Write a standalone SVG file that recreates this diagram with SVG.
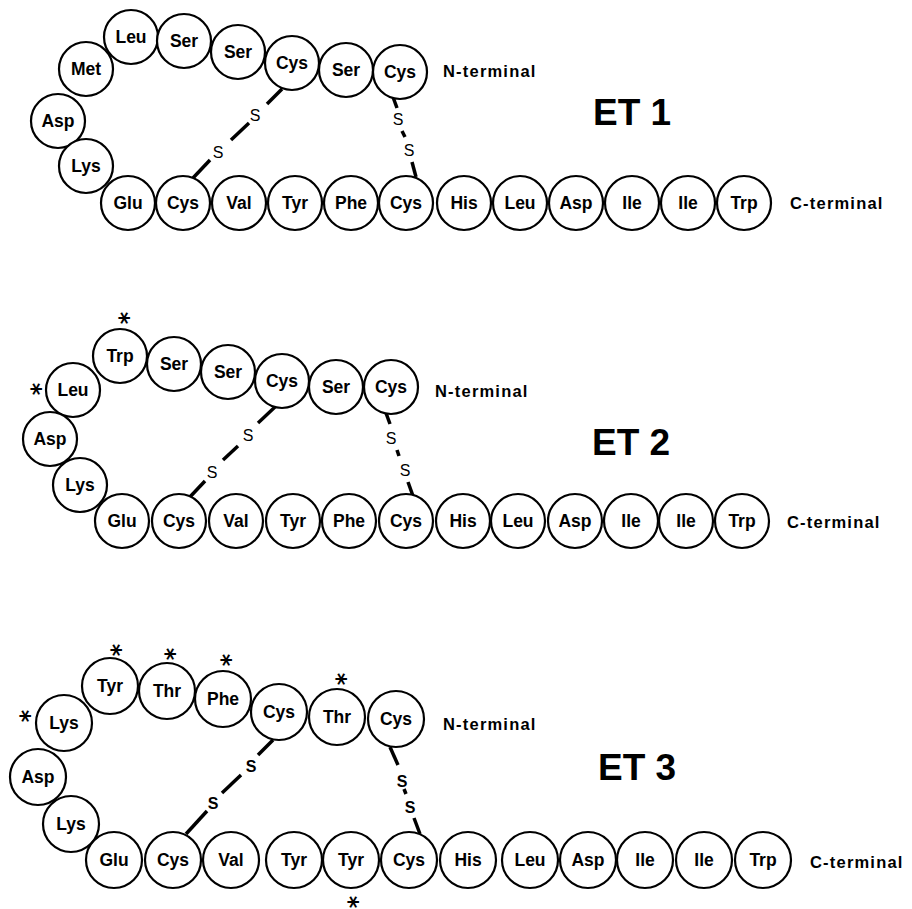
<svg xmlns="http://www.w3.org/2000/svg" width="912" height="909" viewBox="0 0 912 909">
<style>
.r circle{fill:#fff;stroke:#000;stroke-width:2.2}
.r text{font-family:"Liberation Sans",Arial,sans-serif;font-weight:bold;font-size:17.5px;text-anchor:middle;fill:#000}
.bond{stroke:#000;stroke-width:3.5;stroke-linecap:butt}
.s{font-family:"Liberation Sans",Arial,sans-serif;font-size:16px;text-anchor:middle;fill:#000}
.sb{font-family:"Liberation Sans",Arial,sans-serif;font-weight:bold;font-size:16px;text-anchor:middle;fill:#000}
.term{font-family:"Liberation Sans",Arial,sans-serif;font-weight:bold;font-size:16.5px;letter-spacing:1.2px;fill:#000}
.title{font-family:"Liberation Sans",Arial,sans-serif;font-weight:bold;font-size:37px;fill:#000}
.ast{font-family:"DejaVu Sans",sans-serif;font-weight:bold;font-size:24px;text-anchor:middle;fill:#000}
</style>
<rect width="912" height="909" fill="#fff"/>

<!-- connectors (disulfide bridges) -->
<g id="connectors">
  <line class="bond" x1="282" y1="89" x2="267" y2="104"/>
  <line class="bond" x1="249" y1="123" x2="231" y2="140"/>
  <line class="bond" x1="210" y1="160" x2="193" y2="178"/>
  <text class="s" x="255" y="121">S</text>
  <text class="s" x="218" y="158">S</text>
  <line class="bond" x1="393" y1="97" x2="397" y2="108"/>
  <line class="bond" x1="402" y1="131" x2="405" y2="137"/>
  <line class="bond" x1="412" y1="162" x2="416" y2="177"/>
  <text class="s" x="398" y="125">S</text>
  <text class="s" x="409" y="156">S</text>

  <line class="bond" x1="275" y1="407" x2="258" y2="423"/>
  <line class="bond" x1="238" y1="446" x2="223" y2="460"/>
  <line class="bond" x1="205" y1="481" x2="188" y2="499"/>
  <text class="s" x="248" y="441">S</text>
  <text class="s" x="212" y="478">S</text>
  <line class="bond" x1="386" y1="413" x2="390" y2="424"/>
  <line class="bond" x1="397" y1="450" x2="399" y2="456"/>
  <line class="bond" x1="408" y1="482" x2="413" y2="496"/>
  <text class="s" x="391" y="444">S</text>
  <text class="s" x="405" y="476">S</text>

  <line class="bond" x1="273" y1="740" x2="258" y2="755"/>
  <line class="bond" x1="241" y1="775" x2="222" y2="793"/>
  <line class="bond" x1="207" y1="811" x2="186" y2="834"/>
  <text class="sb" x="251" y="772">S</text>
  <text class="sb" x="213" y="809">S</text>
  <line class="bond" x1="390" y1="747" x2="398" y2="765"/>
  <line class="bond" x1="404" y1="789" x2="406" y2="794"/>
  <line class="bond" x1="414" y1="818" x2="420" y2="834"/>
  <text class="sb" x="402" y="787">S</text>
  <text class="sb" x="410" y="813">S</text>
</g>

<!-- ET 1 -->
<g id="et1">
  <g id="et1-leu6" class="r" transform="translate(131,37)"><circle r="27"/><text y="6">Leu</text></g>
  <g id="et1-ser5" class="r" transform="translate(184,41)"><circle r="27"/><text y="6">Ser</text></g>
  <g id="et1-ser4" class="r" transform="translate(238,52)"><circle r="27"/><text y="6">Ser</text></g>
  <g id="et1-cys3" class="r" transform="translate(292,63)"><circle r="27"/><text y="6">Cys</text></g>
  <g id="et1-ser2" class="r" transform="translate(346,70)"><circle r="27"/><text y="6">Ser</text></g>
  <g id="et1-cys1" class="r" transform="translate(400,72)"><circle r="27"/><text y="6">Cys</text></g>
  <g id="et1-met7" class="r" transform="translate(86,69)"><circle r="27"/><text y="6">Met</text></g>
  <g id="et1-asp8" class="r" transform="translate(58,121)"><circle r="27"/><text y="6">Asp</text></g>
  <g id="et1-lys9" class="r" transform="translate(86,166)"><circle r="27"/><text y="6">Lys</text></g>
  <g id="et1-glu10" class="r" transform="translate(128,203)"><circle r="27"/><text y="6">Glu</text></g>
  <g id="et1-cys11" class="r" transform="translate(183,203)"><circle r="27"/><text y="6">Cys</text></g>
  <g id="et1-val12" class="r" transform="translate(239,203)"><circle r="27"/><text y="6">Val</text></g>
  <g id="et1-tyr13" class="r" transform="translate(295,203)"><circle r="27"/><text y="6">Tyr</text></g>
  <g id="et1-phe14" class="r" transform="translate(351,203)"><circle r="27"/><text y="6">Phe</text></g>
  <g id="et1-cys15" class="r" transform="translate(406,203)"><circle r="27"/><text y="6">Cys</text></g>
  <g id="et1-his16" class="r" transform="translate(464,203)"><circle r="27"/><text y="6">His</text></g>
  <g id="et1-leu17" class="r" transform="translate(520,203)"><circle r="27"/><text y="6">Leu</text></g>
  <g id="et1-asp18" class="r" transform="translate(576,203)"><circle r="27"/><text y="6">Asp</text></g>
  <g id="et1-ile19" class="r" transform="translate(632,203)"><circle r="27"/><text y="6">Ile</text></g>
  <g id="et1-ile20" class="r" transform="translate(688,203)"><circle r="27"/><text y="6">Ile</text></g>
  <g id="et1-trp21" class="r" transform="translate(744,203)"><circle r="27"/><text y="6">Trp</text></g>
  <text class="term" x="443" y="77">N-terminal</text>
  <text class="term" x="790" y="209">C-terminal</text>
  <text class="title" x="593" y="125">ET 1</text>
</g>

<!-- ET 2 -->
<g id="et2">
  <g id="et2-trp6" class="r" transform="translate(120,356)"><circle r="27"/><text y="6">Trp</text></g>
  <g id="et2-ser5" class="r" transform="translate(174,364)"><circle r="27"/><text y="6">Ser</text></g>
  <g id="et2-ser4" class="r" transform="translate(228,372)"><circle r="27"/><text y="6">Ser</text></g>
  <g id="et2-cys3" class="r" transform="translate(282,381)"><circle r="27"/><text y="6">Cys</text></g>
  <g id="et2-ser2" class="r" transform="translate(336,387)"><circle r="27"/><text y="6">Ser</text></g>
  <g id="et2-cys1" class="r" transform="translate(391,387)"><circle r="27"/><text y="6">Cys</text></g>
  <g id="et2-leu7" class="r" transform="translate(73,390)"><circle r="27"/><text y="6">Leu</text></g>
  <g id="et2-asp8" class="r" transform="translate(50,439)"><circle r="27"/><text y="6">Asp</text></g>
  <g id="et2-lys9" class="r" transform="translate(80,485)"><circle r="27"/><text y="6">Lys</text></g>
  <g id="et2-glu10" class="r" transform="translate(122,521)"><circle r="27"/><text y="6">Glu</text></g>
  <g id="et2-cys11" class="r" transform="translate(179,521)"><circle r="27"/><text y="6">Cys</text></g>
  <g id="et2-val12" class="r" transform="translate(236,521)"><circle r="27"/><text y="6">Val</text></g>
  <g id="et2-tyr13" class="r" transform="translate(293,521)"><circle r="27"/><text y="6">Tyr</text></g>
  <g id="et2-phe14" class="r" transform="translate(349,521)"><circle r="27"/><text y="6">Phe</text></g>
  <g id="et2-cys15" class="r" transform="translate(406,521)"><circle r="27"/><text y="6">Cys</text></g>
  <g id="et2-his16" class="r" transform="translate(463,521)"><circle r="27"/><text y="6">His</text></g>
  <g id="et2-leu17" class="r" transform="translate(518,521)"><circle r="27"/><text y="6">Leu</text></g>
  <g id="et2-asp18" class="r" transform="translate(575,521)"><circle r="27"/><text y="6">Asp</text></g>
  <g id="et2-ile19" class="r" transform="translate(631,521)"><circle r="27"/><text y="6">Ile</text></g>
  <g id="et2-ile20" class="r" transform="translate(686,521)"><circle r="27"/><text y="6">Ile</text></g>
  <g id="et2-trp21" class="r" transform="translate(742,521)"><circle r="27"/><text y="6">Trp</text></g>
  <text class="ast" transform="translate(121,318) rotate(90)" y="9">*</text>
  <text class="ast" transform="translate(33,389) rotate(90)" y="9">*</text>
  <text class="term" x="435" y="397">N-terminal</text>
  <text class="term" x="787" y="528">C-terminal</text>
  <text class="title" x="592" y="455">ET 2</text>
</g>

<!-- ET 3 -->
<g id="et3">
  <g id="et3-tyr6" class="r" transform="translate(110,686)"><circle r="28"/><text y="6">Tyr</text></g>
  <g id="et3-thr5" class="r" transform="translate(167,691)"><circle r="28"/><text y="6">Thr</text></g>
  <g id="et3-phe4" class="r" transform="translate(223,699)"><circle r="28"/><text y="6">Phe</text></g>
  <g id="et3-cys3" class="r" transform="translate(279,712)"><circle r="28"/><text y="6">Cys</text></g>
  <g id="et3-thr2" class="r" transform="translate(337,717)"><circle r="28"/><text y="6">Thr</text></g>
  <g id="et3-cys1" class="r" transform="translate(396,719)"><circle r="28"/><text y="6">Cys</text></g>
  <g id="et3-lys7" class="r" transform="translate(64,723)"><circle r="28"/><text y="6">Lys</text></g>
  <g id="et3-asp8" class="r" transform="translate(38,777)"><circle r="28"/><text y="6">Asp</text></g>
  <g id="et3-lys9" class="r" transform="translate(71,824)"><circle r="28"/><text y="6">Lys</text></g>
  <g id="et3-glu10" class="r" transform="translate(114,860)"><circle r="28"/><text y="6">Glu</text></g>
  <g id="et3-cys11" class="r" transform="translate(173,860)"><circle r="28"/><text y="6">Cys</text></g>
  <g id="et3-val12" class="r" transform="translate(231,860)"><circle r="28"/><text y="6">Val</text></g>
  <g id="et3-tyr13" class="r" transform="translate(294,860)"><circle r="28"/><text y="6">Tyr</text></g>
  <g id="et3-tyr14" class="r" transform="translate(351,860)"><circle r="28"/><text y="6">Tyr</text></g>
  <g id="et3-cys15" class="r" transform="translate(409,860)"><circle r="28"/><text y="6">Cys</text></g>
  <g id="et3-his16" class="r" transform="translate(468,860)"><circle r="28"/><text y="6">His</text></g>
  <g id="et3-leu17" class="r" transform="translate(530,860)"><circle r="28"/><text y="6">Leu</text></g>
  <g id="et3-asp18" class="r" transform="translate(588,860)"><circle r="28"/><text y="6">Asp</text></g>
  <g id="et3-ile19" class="r" transform="translate(645,860)"><circle r="28"/><text y="6">Ile</text></g>
  <g id="et3-ile20" class="r" transform="translate(704,860)"><circle r="28"/><text y="6">Ile</text></g>
  <g id="et3-trp21" class="r" transform="translate(763,860)"><circle r="28"/><text y="6">Trp</text></g>
  <text class="ast" transform="translate(113,650) rotate(90)" y="9">*</text>
  <text class="ast" transform="translate(167,654) rotate(90)" y="9">*</text>
  <text class="ast" transform="translate(223,660) rotate(90)" y="9">*</text>
  <text class="ast" transform="translate(338,679) rotate(90)" y="9">*</text>
  <text class="ast" transform="translate(22,716) rotate(90)" y="9">*</text>
  <text class="ast" transform="translate(350,902) rotate(90)" y="9">*</text>
  <text class="term" x="443" y="730">N-terminal</text>
  <text class="term" x="810" y="868">C-terminal</text>
  <text class="title" x="598" y="780">ET 3</text>
</g>
</svg>
